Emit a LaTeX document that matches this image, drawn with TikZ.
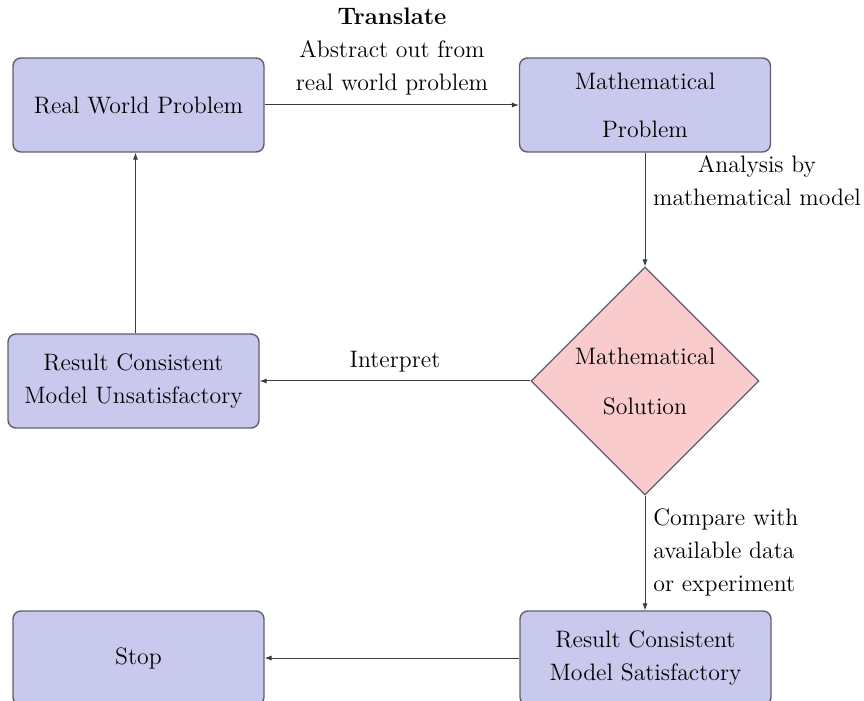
\documentclass[tikz,border=0pt]{standalone}
\usetikzlibrary{shapes.geometric,arrows.meta}
\definecolor{boxfill}{RGB}{201,201,237}
\definecolor{diafill}{RGB}{250,203,205}
\definecolor{edgecol}{RGB}{95,95,108}
\definecolor{arrcol}{RGB}{60,60,60}
\begin{document}
\begin{tikzpicture}[x=0.5pt,y=-0.5pt,
  every node/.style={font=\fontsize{11.9}{16.5}\selectfont},
  box/.style={draw=edgecol, fill=boxfill, rounded corners=4pt, line width=0.7pt,
    align=center, inner sep=0pt, minimum width=125.5pt, minimum height=47pt},
  dia/.style={diamond, draw=edgecol, fill=diafill, line width=0.6pt, align=center,
    inner sep=0pt, minimum width=114pt, minimum height=114pt},
  lbl/.style={align=center, inner sep=0pt},
  arr/.style={draw=arrcol, line width=0.5pt, -{Latex[length=3.5pt,width=2.6pt]}}]
\useasboundingbox (0,0) rectangle (864,701);
\node[box] (rwp) at (138.5,105) {Real World Problem};
\node[box] (mp) at (645,105) {Mathematical\\[7.5pt]Problem};
\node[dia] (ms) at (645,381) {Mathematical\\[8.5pt]Solution};
\node[box] (rcmu) at (133.5,381) {Result Consistent\\Model Unsatisfactory};
\node[box] (rcms) at (645.5,658) {Result Consistent\\Model Satisfactory};
\node[box] (stop) at (138.5,658) {Stop};

\node[lbl] (l1) at (392,52) {\textbf{Translate}\\Abstract out from\\real world problem};
\node[lbl] (l2) at (757,180.5) {Analysis by\\mathematical model};
\node[lbl] (l3) at (395,362) {Interpret};
\node[lbl, align=left, anchor=west] (l4) at (653,552.5) {Compare with\\available data\\or experiment};

\draw[arr] (rwp) -- (mp);
\draw[arr] (mp) -- (ms);
\draw[arr] (ms.west) -- (ms.west -| rcmu.east);
\draw[arr] ([xshift=1pt]rcmu.north) -- ([xshift=1pt]rcmu.north |- rwp.south);
\draw[arr] (ms.south) -- (ms.south |- rcms.north);
\draw[arr] (rcms) -- (stop);
\end{tikzpicture}
\end{document}
